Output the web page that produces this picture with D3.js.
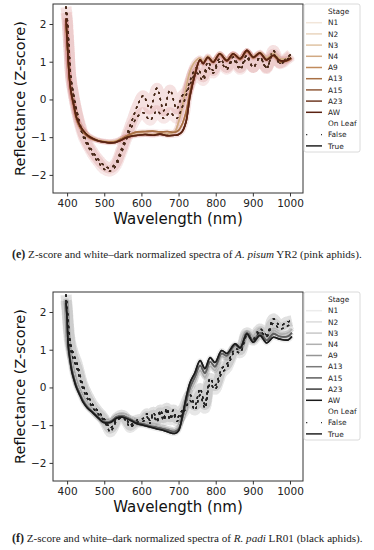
<!DOCTYPE html>
<html>
<head>
<meta charset="utf-8">
<script src="https://cdn.jsdelivr.net/npm/d3@7"></script>
<style>
  body { margin: 0; background: #fff; }
  svg { display: block; }
</style>
</head>
<body>
<div id="chart"></div>
<script>
// ---- data ----
const stages = ["N1", "N2", "N3", "N4", "A9", "A13", "A15", "A23", "AW"];
const xTicks = [400, 500, 600, 700, 800, 900, 1000];
const yTicks = [-2, -1, 0, 1, 2];

// (e) pink aphids
const pinkColors = ["#f2e6da", "#e9d5bf", "#dfc3a3", "#d1a983", "#c08b5c", "#a87045", "#915c3b", "#6f3a24", "#5a2212"];
const pinkTrueWl = [397, 400, 403, 406, 410, 418, 426, 435, 443, 455, 470, 485, 500, 515, 530, 545, 560, 575, 590, 610, 630, 650, 670, 690, 700, 710, 720, 731, 744, 758, 766, 779, 793, 811, 830, 847, 866, 884, 901, 919, 937, 955, 973, 991, 1003];
const pinkTrueEarly = [2.1, 1.55, 1.0, 0.6, 0.3, -0.1, -0.45, -0.68, -0.8, -0.93, -1.02, -1.08, -1.11, -1.12, -1.1, -1.04, -0.98, -0.95, -0.93, -0.92, -0.93, -0.9, -0.92, -0.85, -0.6, -0.2, 0.3, 0.75, 1.0, 1.1, 1.0, 1.15, 1.02, 1.22, 1.06, 1.22, 1.1, 1.3, 1.14, 1.25, 1.1, 1.22, 1.08, 1.08, 1.12];
const pinkTrueRed = [2.0, 1.5, 1.0, 0.55, 0.2, -0.2, -0.55, -0.75, -0.86, -0.98, -1.06, -1.1, -1.12, -1.13, -1.12, -1.05, -0.97, -0.9, -0.86, -0.85, -0.84, -0.86, -0.85, -0.87, -0.82, -0.65, -0.35, 0.2, 0.7, 1.05, 0.96, 1.1, 0.98, 1.2, 1.02, 1.19, 1.06, 1.27, 1.1, 1.22, 1.05, 1.15, 1.0, 1.02, 1.08];
const pinkTrueDark = [2.15, 1.6, 1.05, 0.6, 0.25, -0.15, -0.5, -0.7, -0.82, -0.95, -1.04, -1.1, -1.13, -1.15, -1.14, -1.08, -1.01, -0.97, -0.95, -0.93, -0.95, -0.92, -0.96, -0.95, -0.93, -0.85, -0.6, 0.1, 0.65, 1.05, 0.95, 1.12, 0.99, 1.21, 1.03, 1.21, 1.08, 1.3, 1.12, 1.23, 1.05, 1.17, 1.03, 1.03, 1.1];
const pinkFalseWl = [397, 400, 405, 410, 418, 426, 435, 443, 455, 470, 485, 500, 515, 530, 545, 560, 575, 590, 605, 623, 642, 660, 677, 695, 710, 720, 731, 749, 766, 779, 793, 811, 830, 847, 866, 884, 901, 919, 937, 955, 973, 991, 1003];
const pinkFalseHigh = [2.45, 2.2, 1.4, 0.6, 0.1, -0.3, -0.65, -0.9, -1.15, -1.4, -1.6, -1.75, -1.82, -1.7, -1.35, -0.95, -0.55, -0.15, 0.1, -0.25, 0.3, -0.3, 0.25, -0.25, 0.1, 0.2, 0.5, 0.85, 0.6, 1.0, 0.77, 1.08, 0.85, 1.12, 0.85, 1.17, 0.85, 1.12, 0.82, 1.3, 0.97, 1.1, 1.2];
const pinkFalseLow = [2.3, 2.05, 1.3, 0.55, 0.05, -0.35, -0.72, -0.98, -1.22, -1.48, -1.68, -1.85, -1.9, -1.78, -1.45, -1.05, -0.7, -0.45, -0.35, -0.55, -0.3, -0.5, -0.35, -0.5, -0.2, 0.1, 0.4, 0.7, 0.5, 0.85, 0.7, 1.0, 0.8, 1.05, 0.8, 1.1, 0.85, 1.1, 0.85, 1.2, 0.95, 1.05, 1.15];
// which curve each stage follows
const pinkTrueOf = ["early", "early", "early", "early", "red", "red", "dark", "dark", "dark"];
const pinkFalseOf = ["high", "high", "high", "high", "high", "low", "low", "low", "low"];

// (f) black aphids
const blackColors = ["#ececec", "#dcdcdc", "#c8c8c8", "#b0b0b0", "#959595", "#7a7a7a", "#5e5e5e", "#3c3c3c", "#1a1a1a"];
const blackTrueWl = [397, 400, 403, 408, 413, 420, 426, 435, 443, 455, 470, 485, 497, 516, 534, 550, 570, 588, 605, 623, 642, 660, 677, 690, 700, 712, 722, 731, 744, 758, 771, 785, 798, 816, 830, 852, 866, 884, 901, 919, 937, 955, 973, 995, 1005];
const blackTrueLight = [2.35, 1.9, 1.3, 0.85, 0.55, 0.25, 0.06, -0.14, -0.3, -0.48, -0.63, -0.77, -0.87, -0.88, -0.75, -0.73, -0.8, -0.9, -0.94, -0.98, -1.02, -1.06, -1.1, -1.12, -1.05, -0.8, -0.45, -0.12, 0.15, 0.45, 0.27, 0.56, 0.45, 0.82, 0.78, 1.06, 1.02, 1.45, 1.3, 1.52, 1.32, 1.52, 1.42, 1.45, 1.55];
const blackTrueMid = [2.3, 1.85, 1.2, 0.78, 0.48, 0.2, 0.02, -0.18, -0.35, -0.52, -0.66, -0.8, -0.9, -0.9, -0.78, -0.76, -0.84, -0.93, -0.97, -1.02, -1.06, -1.1, -1.15, -1.17, -1.1, -0.75, -0.32, 0.0, 0.28, 0.58, 0.38, 0.68, 0.55, 0.9, 0.84, 1.12, 1.04, 1.45, 1.25, 1.45, 1.25, 1.42, 1.35, 1.36, 1.45];
const blackTrueDark = [2.25, 1.8, 1.1, 0.7, 0.4, 0.15, -0.03, -0.22, -0.39, -0.55, -0.68, -0.82, -0.92, -0.93, -0.81, -0.79, -0.87, -0.96, -1.0, -1.05, -1.1, -1.14, -1.2, -1.22, -1.15, -0.67, -0.2, 0.13, 0.39, 0.71, 0.5, 0.79, 0.66, 0.98, 0.9, 1.16, 1.05, 1.42, 1.2, 1.38, 1.18, 1.33, 1.28, 1.26, 1.35];
const blackFalseWl = [397, 400, 404, 408, 415, 426, 435, 443, 455, 470, 485, 497, 507, 516, 525, 534, 550, 562, 570, 580, 590, 605, 615, 623, 632, 642, 651, 660, 668, 677, 686, 695, 705, 716, 731, 744, 758, 771, 785, 798, 816, 830, 852, 866, 884, 901, 919, 937, 955, 973, 991, 1005];
const blackFalseA = [2.45, 2.15, 1.6, 1.25, 0.95, 0.66, 0.32, 0.05, -0.2, -0.47, -0.65, -0.79, -0.95, -1.08, -0.98, -0.8, -0.74, -0.88, -1.0, -0.92, -0.86, -0.82, -0.7, -0.88, -0.66, -0.85, -0.6, -0.8, -0.55, -0.78, -0.6, -0.82, -0.68, -0.5, -0.2, -0.47, -0.03, -0.45, 0.24, 0.05, 0.5, 0.62, 1.03, 1.0, 1.45, 1.3, 1.55, 1.4, 1.82, 1.64, 1.73, 1.77];
const blackFalseB = [2.3, 2.0, 1.45, 1.1, 0.8, 0.52, 0.2, -0.05, -0.3, -0.55, -0.72, -0.85, -1.02, -1.18, -1.05, -0.88, -0.8, -0.95, -1.06, -0.98, -0.92, -0.9, -0.78, -0.95, -0.74, -0.92, -0.68, -0.88, -0.64, -0.86, -0.7, -0.9, -0.78, -0.62, -0.35, -0.6, -0.2, -0.55, 0.1, -0.05, 0.38, 0.52, 0.95, 0.92, 1.38, 1.25, 1.48, 1.35, 1.7, 1.55, 1.62, 1.68];
const blackTrueOf = ["light", "light", "light", "light", "mid", "mid", "mid", "dark", "dark"];
const blackFalseOf = ["a", "a", "a", "a", "a", "b", "b", "b", "b"];

const W = 374, H = 550;
const svg = d3.select("#chart").append("svg").attr("width", W).attr("height", H);
svg.append("rect").attr("width", W).attr("height", H).attr("fill", "#fff");

const sans = "DejaVu Sans, sans-serif";
const serif = "Liberation Serif, serif";

function drawPanel(opt) {
  const left = 53, right = 303;
  const top = opt.top, bottom = opt.top + 189;

  const x = d3.scaleLinear().domain([362, 1035]).range([left, right]);
  const y = d3.scaleLinear().domain([-2.48, 2.53]).range([bottom, top]);

  const g = svg.append("g");
  const clipId = "clip" + opt.key;
  g.append("clipPath").attr("id", clipId)
    .append("rect").attr("x", left).attr("y", top)
    .attr("width", right - left).attr("height", bottom - top);

  const plot = g.append("g").attr("clip-path", `url(#${clipId})`);

  const line = (wl) => d3.line()
    .x((d, i) => x(wl[i]))
    .y((d) => y(d))
    .curve(d3.curveCatmullRom.alpha(0.5));

  const series = [];
  stages.forEach((s, i) => {
    series.push({ wl: opt.falseWl, v: opt.falseCurves[opt.falseOf[i]], color: opt.colors[i], dotted: true });
    series.push({ wl: opt.trueWl, v: opt.trueCurves[opt.trueOf[i]], color: opt.colors[i], dotted: false });
  });

  // faint wide strokes stand in for the confidence bands
  series.forEach((s) => {
    plot.append("path")
      .attr("d", line(s.wl)(s.v))
      .attr("fill", "none")
      .attr("stroke", opt.bandColor)
      .attr("stroke-opacity", s.dotted ? 0.035 : 0.05)
      .attr("stroke-width", s.dotted ? 11 : 5)
      .attr("stroke-linejoin", "round");
  });

  series.forEach((s) => {
    plot.append("path")
      .attr("d", line(s.wl)(s.v))
      .attr("fill", "none")
      .attr("stroke", s.dotted ? opt.dotColor : s.color)
      .attr("stroke-width", s.dotted ? 1.3 : 1.6)
      .attr("stroke-dasharray", s.dotted ? "1.3,5" : null)
      .attr("stroke-linecap", s.dotted ? "round" : "butt");
  });

  // axes
  const xAxis = g.append("g")
    .attr("transform", `translate(0,${bottom})`)
    .call(d3.axisBottom(x).tickValues(xTicks).tickSize(3.5).tickPadding(3).tickFormat(d3.format("d")));
  const yAxis = g.append("g")
    .attr("transform", `translate(${left},0)`)
    .call(d3.axisLeft(y).tickValues(yTicks).tickSize(3.5).tickPadding(3)
      .tickFormat((d) => (d < 0 ? "\u2212" + Math.abs(d) : d)));
  [xAxis, yAxis].forEach((a) => {
    a.select(".domain").remove();
    a.selectAll("line").attr("stroke", "#333");
    a.selectAll("text").attr("font-family", sans).attr("font-size", 10.5).attr("fill", "#222");
  });

  g.append("rect")
    .attr("x", left).attr("y", top)
    .attr("width", right - left).attr("height", bottom - top)
    .attr("fill", "none").attr("stroke", "#333").attr("stroke-width", 1);

  g.append("text")
    .attr("x", (left + right) / 2).attr("y", bottom + 31)
    .attr("text-anchor", "middle")
    .attr("font-family", sans).attr("font-size", 15).attr("fill", "#111")
    .text("Wavelength (nm)");

  g.append("text")
    .attr("transform", `translate(25,${(top + bottom) / 2}) rotate(-90)`)
    .attr("text-anchor", "middle")
    .attr("font-family", sans).attr("font-size", 14.5).attr("fill", "#111")
    .text("Reflectance (Z-score)");

  // legend
  const lg = g.append("g").attr("transform", `translate(304,${top})`);
  lg.append("rect")
    .attr("width", 56).attr("height", 148).attr("rx", 2)
    .attr("fill", "#fff").attr("fill-opacity", 0.85)
    .attr("stroke", "#d0d0d0").attr("stroke-width", 0.8);

  const rows = [{ label: "Stage" }]
    .concat(stages.map((s, i) => ({ label: s, color: opt.colors[i] })))
    .concat([{ label: "On Leaf" }, { label: "False", style: "dot" }, { label: "True", style: "solid" }]);

  rows.forEach((r, i) => {
    const ry = 7.5 + i * 11.2;
    if (r.color) {
      lg.append("line").attr("x1", 2).attr("x2", 18).attr("y1", ry).attr("y2", ry)
        .attr("stroke", r.color).attr("stroke-width", 1.5);
    } else if (r.style === "dot") {
      lg.append("line").attr("x1", 2).attr("x2", 18).attr("y1", ry).attr("y2", ry)
        .attr("stroke", "#333").attr("stroke-width", 1.3)
        .attr("stroke-dasharray", "1.3,13.7");
    } else if (r.style === "solid") {
      lg.append("line").attr("x1", 2).attr("x2", 18).attr("y1", ry).attr("y2", ry)
        .attr("stroke", "#222").attr("stroke-width", 1.5);
    }
    lg.append("text")
      .attr("x", 24).attr("y", ry + 2.6)
      .attr("font-family", sans).attr("font-size", 7.4).attr("fill", "#222")
      .text(r.label);
  });

  // caption
  const cap = svg.append("text")
    .attr("x", 12).attr("y", opt.captionY)
    .attr("font-family", serif).attr("font-size", 11.1).attr("fill", "#222");
  cap.append("tspan").attr("font-weight", "bold").attr("font-size", 12).text("(" + opt.letter + ")");
  cap.append("tspan").text(" Z-score and white\u2013dark normalized spectra of ");
  cap.append("tspan").attr("font-style", "italic").text(opt.species);
  cap.append("tspan").text(" " + opt.tail);
}

drawPanel({
  key: "e", top: 4, captionY: 258, letter: "e",
  species: "A. pisum", tail: "YR2 (pink aphids).",
  colors: pinkColors, dotColor: "#4a2a1a", bandColor: "#c0504a",
  trueWl: pinkTrueWl, trueCurves: { early: pinkTrueEarly, red: pinkTrueRed, dark: pinkTrueDark }, trueOf: pinkTrueOf,
  falseWl: pinkFalseWl, falseCurves: { high: pinkFalseHigh, low: pinkFalseLow }, falseOf: pinkFalseOf,
});

drawPanel({
  key: "f", top: 292, captionY: 542, letter: "f",
  species: "R. padi", tail: "LR01 (black aphids).",
  colors: blackColors, dotColor: "#222", bandColor: "#555",
  trueWl: blackTrueWl, trueCurves: { light: blackTrueLight, mid: blackTrueMid, dark: blackTrueDark }, trueOf: blackTrueOf,
  falseWl: blackFalseWl, falseCurves: { a: blackFalseA, b: blackFalseB }, falseOf: blackFalseOf,
});
</script>
</body>
</html>
